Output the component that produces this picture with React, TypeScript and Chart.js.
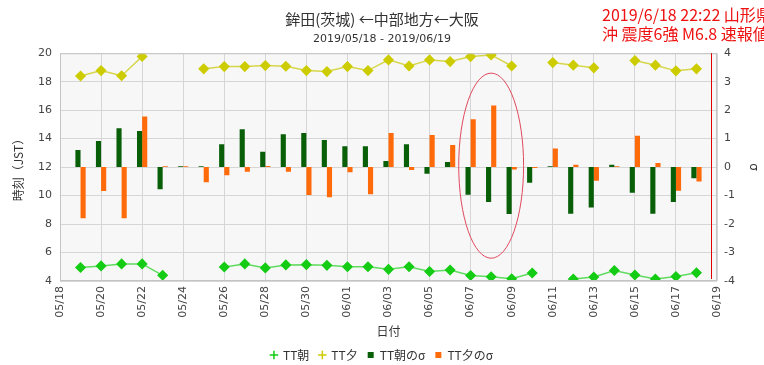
import React, { useEffect, useRef } from "react";
import { Chart, registerables } from "chart.js";

Chart.register(...registerables);

const days = [
  "05/18", "05/19", "05/20", "05/21", "05/22", "05/23", "05/24", "05/25", "05/26", "05/27", "05/28",
  "05/29", "05/30", "05/31", "06/01", "06/02", "06/03", "06/04", "06/05", "06/06", "06/07", "06/08",
  "06/09", "06/10", "06/11", "06/12", "06/13", "06/14", "06/15", "06/16", "06/17", "06/18", "06/19",
];

const ttAsa = [
  null, 4.95, 5.06, 5.2, 5.2, 4.4, null, null, 4.98, 5.2, 4.92,
  5.13, 5.15, 5.1, 5.0, 5.0, 4.82, 5.0, 4.67, 4.77, 4.39, 4.3,
  4.16, 4.56, null, 4.14, 4.28, 4.74, 4.42, 4.14, 4.32, 4.58, null,
];

const ttYu = [
  null, 18.4, 18.78, 18.42, 19.77, null, null, 18.9, 19.06, 19.06, 19.13,
  19.08, 18.78, 18.71, 19.06, 18.78, 19.53, 19.1, 19.53, 19.41, 19.76, 19.88,
  19.1, null, 19.34, 19.16, 18.97, null, 19.48, 19.16, 18.76, 18.9, null,
];

const sigmaAsa = [
  null, 0.6, 0.92, 1.36, 1.27, -0.78, 0.03, 0.03, 0.8, 1.33, 0.54,
  1.15, 1.2, 0.95, 0.73, 0.73, 0.21, 0.8, -0.23, 0.18, -0.97, -1.23,
  -1.65, -0.55, 0.03, -1.64, -1.42, 0.08, -0.9, -1.64, -1.23, -0.39, null,
];

const sigmaYu = [
  null, -1.8, -0.84, -1.8, 1.78, 0.03, 0.03, -0.53, -0.29, -0.16, 0.04,
  -0.16, -0.98, -1.06, -0.18, -0.95, 1.2, -0.1, 1.13, 0.78, 1.68, 2.16,
  -0.08, -0.03, 0.65, 0.08, -0.48, 0.03, 1.1, 0.14, -0.83, -0.51, null,
];

const seriesNames = ["TT朝", "TT夕", "TT朝のσ", "TT夕のσ"];
const titleText = "鉾田(茨城) ←中部地方←大阪";
const subtitleText = "2019/05/18 - 2019/06/19";
const noteLines = ["2019/6/18 22:22 山形県", "沖 震度6強 M6.8 速報値"];
const quakeIndex = 31.7;
const ellipseCenter = { index: 21, value: 12.1 };
const ellipseRadius = { days: 1.58, hours: 6.5 };

const FONT = "'DejaVu Sans', 'Noto Sans CJK JP', sans-serif";
const CJK = "'Noto Sans CJK JP', 'DejaVu Sans', sans-serif";

const decorPlugin = {
  id: "decor",
  beforeDraw(chart: any) {
    const { ctx, chartArea: a } = chart;
    ctx.save();
    ctx.fillStyle = "#f7f7f7";
    ctx.fillRect(a.left, a.top, a.right - a.left, a.bottom - a.top);
    ctx.restore();
  },
  afterDatasetsDraw(chart: any) {
    const { ctx, chartArea: a } = chart;
    const xs = chart.scales.x;
    const ys = chart.scales.y;
    ctx.save();
    ctx.strokeStyle = "#c4c4c4";
    ctx.lineWidth = 1;
    ctx.strokeRect(a.left + 0.5, a.top + 0.5, a.right - a.left - 1, a.bottom - a.top - 1);
    const qx = Math.round(xs.getPixelForValue(quakeIndex)) + 0.5;
    ctx.strokeStyle = "#e00000";
    ctx.beginPath();
    ctx.moveTo(qx, a.top);
    ctx.lineTo(qx, a.bottom - 2);
    ctx.stroke();
    const cx = xs.getPixelForValue(ellipseCenter.index);
    const cy = ys.getPixelForValue(ellipseCenter.value);
    const rx = xs.getPixelForValue(ellipseCenter.index + ellipseRadius.days) - cx;
    const ry = ys.getPixelForValue(ellipseCenter.value) - ys.getPixelForValue(ellipseCenter.value + ellipseRadius.hours);
    ctx.strokeStyle = "#e04a5e";
    ctx.beginPath();
    ctx.ellipse(cx, cy, rx, ry, 0, 0, Math.PI * 2);
    ctx.stroke();
    ctx.restore();
  },
};

export default function App() {
  const ref = useRef<HTMLCanvasElement>(null);

  useEffect(() => {
    document.body.style.margin = "0";
    const canvas = ref.current!;
    const chart = new Chart(canvas, {
      type: "line",
      data: {
        labels: days,
        datasets: [
          {
            type: "line",
            label: seriesNames[0],
            data: ttAsa,
            yAxisID: "y",
            borderColor: "#5fdc5f",
            backgroundColor: "#14cc14",
            pointBackgroundColor: "#14cc14",
            pointBorderColor: "#14cc14",
            pointStyle: "rectRot",
            pointRadius: 4.5,
            borderWidth: 1.5,
            spanGaps: false,
            order: 0,
          },
          {
            type: "line",
            label: seriesNames[1],
            data: ttYu,
            yAxisID: "y",
            borderColor: "#d6d64a",
            backgroundColor: "#cccc00",
            pointBackgroundColor: "#cccc00",
            pointBorderColor: "#cccc00",
            pointStyle: "rectRot",
            pointRadius: 4.5,
            borderWidth: 1.5,
            spanGaps: false,
            order: 0,
          },
          {
            type: "bar",
            label: seriesNames[2],
            data: sigmaAsa,
            yAxisID: "y1",
            backgroundColor: "#085f08",
            borderWidth: 0,
            categoryPercentage: 0.5,
            barPercentage: 1,
            order: 1,
          },
          {
            type: "bar",
            label: seriesNames[3],
            data: sigmaYu,
            yAxisID: "y1",
            backgroundColor: "#ff6a0a",
            borderWidth: 0,
            categoryPercentage: 0.5,
            barPercentage: 1,
            order: 1,
          },
        ] as any,
      },
      options: {
        animation: false,
        responsive: false,
        maintainAspectRatio: false,
        layout: { padding: { left: 0, right: 0, top: 0, bottom: -6 } },
        plugins: {
          title: {
            display: true,
            text: titleText,
            color: "#333",
            font: { family: CJK, size: 15, weight: "normal" },
            padding: { top: 10, bottom: 4 },
          },
          subtitle: {
            display: true,
            text: subtitleText,
            color: "#333",
            font: { family: FONT, size: 11 },
            padding: { top: 1, bottom: 7 },
          },
          legend: {
            display: true,
            position: "bottom",
            labels: {
              usePointStyle: true,
              boxWidth: 6,
              boxHeight: 6,
              padding: 10,
              color: "#333",
              font: { family: CJK, size: 12 },
              generateLabels(chart: any) {
                const items = (Chart.defaults.plugins.legend.labels as any).generateLabels(chart);
                return items.map((it: any, i: number) => {
                  const ds = chart.data.datasets[i];
                  if (ds.type === "line") {
                    it.pointStyle = "cross";
                    it.strokeStyle = ds.pointBackgroundColor;
                    it.fillStyle = ds.pointBackgroundColor;
                    it.lineWidth = 1.5;
                  } else {
                    it.pointStyle = "rect";
                    it.strokeStyle = ds.backgroundColor;
                    it.fillStyle = ds.backgroundColor;
                    it.lineWidth = 0;
                  }
                  return it;
                });
              },
            },
          },
          tooltip: { enabled: false },
        },
        scales: {
          x: {
            type: "category",
            offset: false,
            grid: {
              offset: false,
              drawTicks: false,
              color: (c: any) => (c.index % 2 === 0 ? "#d6d6d6" : "rgba(0,0,0,0)"),
            },
            border: { display: false },
            ticks: {
              autoSkip: false,
              maxRotation: 90,
              minRotation: 90,
              padding: 5,
              color: "#444",
              font: { family: FONT, size: 11 },
              callback: (v: any, i: number) => (i % 2 === 0 ? days[i] : ""),
            },
            title: {
              display: true,
              text: "日付",
              color: "#333",
              font: { family: CJK, size: 12 },
              padding: { top: 0, bottom: 0 },
            },
            afterFit: (s: any) => {
              s.height = 58;
            },
          },
          y: {
            type: "linear",
            position: "left",
            min: 4,
            max: 20,
            grid: { drawTicks: false, color: "#d6d6d6" },
            border: { display: false },
            ticks: {
              stepSize: 2,
              padding: 8,
              color: "#444",
              font: { family: FONT, size: 11 },
            },
            title: {
              display: true,
              text: "時刻（JST）",
              color: "#333",
              font: { family: CJK, size: 12 },
              padding: { top: 11, bottom: 0 },
            },
            afterFit: (s: any) => {
              s.width = 60;
            },
          },
          y1: {
            type: "linear",
            position: "right",
            min: -4,
            max: 4,
            grid: { display: false, drawTicks: false },
            border: { display: false },
            ticks: {
              stepSize: 1,
              padding: 7,
              color: "#444",
              font: { family: FONT, size: 11 },
            },
            title: {
              display: true,
              text: "σ",
              color: "#333",
              font: { family: FONT, size: 12 },
              padding: { top: 4, bottom: 0 },
            },
            afterFit: (s: any) => {
              s.width = 47;
            },
          },
        },
      } as any,
      plugins: [decorPlugin],
    });
    return () => chart.destroy();
  }, []);

  return (
    <div style={{ position: "relative", width: 764, height: 365, overflow: "hidden", background: "#fff" }}>
      <canvas ref={ref} width={764} height={365} style={{ display: "block" }} />
      <div
        style={{
          position: "absolute",
          left: 602,
          top: 5,
          color: "#ee1111",
          fontFamily: CJK,
          fontSize: 16,
          lineHeight: "19px",
          whiteSpace: "nowrap",
        }}
      >
        {noteLines.map((l) => (
          <div key={l}>{l}</div>
        ))}
      </div>
    </div>
  );
}
